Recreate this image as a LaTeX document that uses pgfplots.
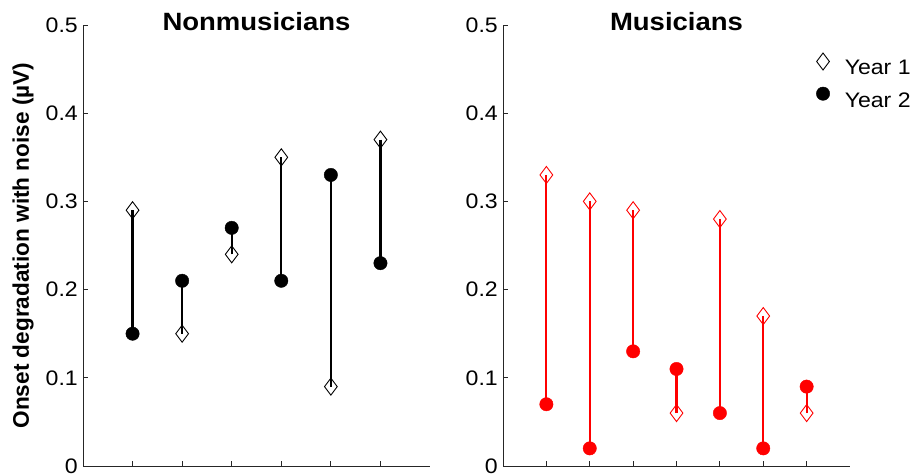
\documentclass[border=0pt]{standalone}
\usepackage{fontspec}
\setmainfont[FakeStretch=1.1]{Liberation Sans}
\newfontfamily\labfont{Liberation Sans}
\usepackage{pgfplots}
\pgfplotsset{compat=1.18}
\begin{document}
\begin{tikzpicture}
\pgfplotsset{
 panel/.style={
  scale only axis, width=347pt, height=441pt,
  xmin=0, ymin=0, ymax=0.5,
  axis x line=bottom, axis y line=left,
  axis line style={-, line width=0.8pt, black!85},
  tick align=inside, major tick length=5pt, tick style={line width=0.8pt, black!85},
  ytick={0,0.1,0.2,0.3,0.4,0.5}, yticklabels={0,0.1,0.2,0.3,0.4,0.5},
  yticklabel style={font=\fontsize{21}{24}\selectfont, inner sep=0pt, xshift=-5pt},
  xticklabels={},
  title style={font=\fontsize{25}{29}\selectfont\bfseries, at={(axis description cs:0.5,1)}, anchor=base, inner sep=0pt, yshift=-12pt},
  clip=false,
  unbounded coords=jump,
 },
 y1/.style={only marks, mark=diamond, mark size=8.5pt, line width=0.9pt},
 y2/.style={only marks, mark=*, mark size=6.7pt},
}
\begin{axis}[panel, at={(83pt,10pt)}, anchor=south west, xmax=7, xtick={1,2,3,4,5,6},
  title={Nonmusicians},
  ylabel={Onset degradation with noise (µV)},
  ylabel style={at={(axis description cs:-0.173,0.5)}, anchor=center, font=\labfont\fontsize{22.6}{26}\selectfont\bfseries}]
\addplot[black, line width=2.2pt] coordinates {(1,0.29) (1,0.15) (1,nan) (2,0.15) (2,0.21) (2,nan) (3,0.24) (3,0.27) (3,nan) (4,0.35) (4,0.21) (4,nan) (5,0.09) (5,0.33) (5,nan) (6,0.37) (6,0.23)};
\addplot[y1, black] coordinates {(1,0.29) (2,0.15) (3,0.24) (4,0.35) (5,0.09) (6,0.37)};
\addplot[y2, black] coordinates {(1,0.15) (2,0.21) (3,0.27) (4,0.21) (5,0.33) (6,0.23)};
\end{axis}
\begin{axis}[panel, at={(503pt,10pt)}, anchor=south west, xmax=8, xtick={1,2,3,4,5,6,7},
  title={Musicians},
  legend image code/.code={\draw[#1] plot coordinates {(0pt,7pt)};},
  legend style={draw=none, fill=none, at={(axis description cs:0.903,0.9365)}, anchor=north west,
    font=\fontsize{21}{24}\selectfont, row sep=10.5pt, inner sep=0pt, outer sep=0pt,
    nodes={inner sep=0pt},
    /tikz/every odd column/.append style={column sep=15pt}},
  legend cell align=left]
\addlegendimage{y1, black}
\addlegendentry{Year 1}
\addlegendimage{y2, black}
\addlegendentry{Year 2}
\addplot[red, line width=2.2pt, forget plot] coordinates {(1,0.33) (1,0.07) (1,nan) (2,0.30) (2,0.02) (2,nan) (3,0.29) (3,0.13) (3,nan) (4,0.06) (4,0.11) (4,nan) (5,0.28) (5,0.06) (5,nan) (6,0.17) (6,0.02) (6,nan) (7,0.06) (7,0.09)};
\addplot[y1, red, forget plot] coordinates {(1,0.33) (2,0.30) (3,0.29) (4,0.06) (5,0.28) (6,0.17) (7,0.06)};
\addplot[y2, red, forget plot] coordinates {(1,0.07) (2,0.02) (3,0.13) (4,0.11) (5,0.06) (6,0.02) (7,0.09)};
\end{axis}
\pgfresetboundingbox
\path (0,0) rectangle (912pt,476pt);
\end{tikzpicture}
\end{document}
